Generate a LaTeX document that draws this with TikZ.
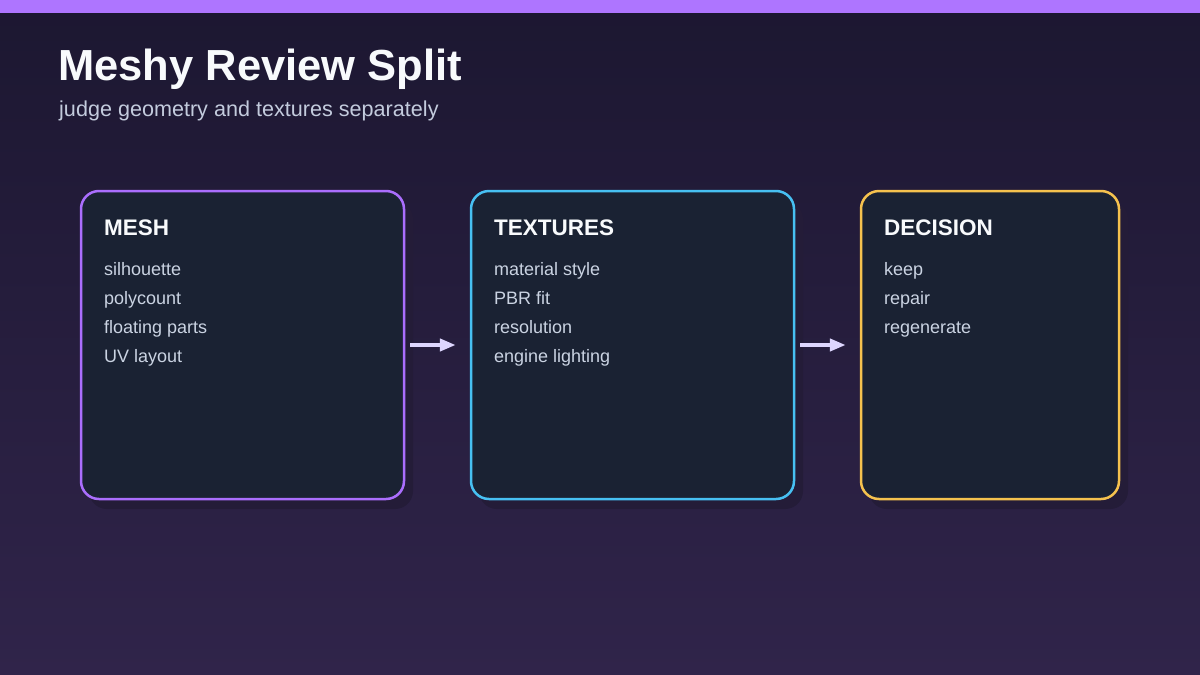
\documentclass[tikz,border=0pt]{standalone}
\usepackage{fontspec}
\setmainfont{Liberation Sans}
\usetikzlibrary{arrows.meta}
\definecolor{bgtop}{HTML}{1C1731}
\definecolor{bgbot}{HTML}{30244A}
\definecolor{barc}{HTML}{AE75FF}
\definecolor{cardfill}{HTML}{1A2233}
\definecolor{shadowc}{HTML}{241C38}
\definecolor{meshc}{HTML}{AA6EFD}
\definecolor{texc}{HTML}{47C0F2}
\definecolor{decc}{HTML}{F5C24E}
\definecolor{titlec}{HTML}{F8FAFC}
\definecolor{subc}{HTML}{C3CBDD}
\definecolor{itemc}{HTML}{CAD3E2}
\definecolor{arrowc}{HTML}{DDD6FE}
\tikzset{
  card/.style={draw=#1, line width=2.5pt, fill=cardfill, rounded corners=18pt, inner sep=0pt},
  cardshadow/.style={fill=shadowc, rounded corners=18pt, draw=none},
  head/.style={anchor=base west, inner sep=0pt, text=titlec, font=\fontsize{22.5}{26}\selectfont\bfseries},
  item/.style={anchor=base west, inner sep=0pt, text=itemc, font=\fontsize{18}{22}\selectfont},
  flow/.style={draw=arrowc, line width=4pt, -{Triangle[length=16pt,width=12pt]}},
}
\begin{document}
\begin{tikzpicture}[x=1pt,y=-1pt]
\useasboundingbox (0,0) rectangle (1200,675);
\shade[top color=bgtop, bottom color=bgbot] (0,0) rectangle (1200,675);
\fill[barc] (0,0) rectangle (1200,13);
\node[anchor=base west, inner sep=0pt, text=titlec, font=\fontsize{43.5}{50}\selectfont\bfseries] (title) at (58,80) {Meshy Review Split};
\node[anchor=base west, inner sep=0pt, text=subc, font=\fontsize{21.6}{26}\selectfont] (subtitle) at (59,116) {judge geometry and textures separately};
% shadows
\fill[cardshadow] (89,201) rectangle (413,509);
\fill[cardshadow] (479,201) rectangle (803,509);
\fill[cardshadow] (869,201) rectangle (1128,509);
% cards
\draw[card=meshc] (81,191) rectangle (404,499);
\draw[card=texc] (471,191) rectangle (794,499);
\draw[card=decc] (861,191) rectangle (1119,499);
\node[inner sep=0pt, minimum width=323pt, minimum height=308pt] (mesh) at (242.5,345) {};
\node[inner sep=0pt, minimum width=323pt, minimum height=308pt] (tex) at (632.5,345) {};
\node[inner sep=0pt, minimum width=258pt, minimum height=308pt] (dec) at (990,345) {};
% texts
\node[head] (h1) at (104,235) {MESH};
\node[item] (m1) at (104,275) {silhouette};
\node[item] (m2) at (104,304) {polycount};
\node[item] (m3) at (104,333) {floating parts};
\node[item] (m4) at (104,362) {UV layout};
\node[head] (h2) at (494,235) {TEXTURES};
\node[item] (t1) at (494,275) {material style};
\node[item] (t2) at (494,304) {PBR fit};
\node[item] (t3) at (494,333) {resolution};
\node[item] (t4) at (494,362) {engine lighting};
\node[head] (h3) at (884,235) {DECISION};
\node[item] (d1) at (884,275) {keep};
\node[item] (d2) at (884,304) {repair};
\node[item] (d3) at (884,333) {regenerate};
% arrows
\draw[flow] ([xshift=6pt]mesh.east) -- ([xshift=-15pt]tex.west);
\draw[flow] ([xshift=6pt]tex.east) -- ([xshift=-15pt]dec.west);
\end{tikzpicture}
\end{document}
